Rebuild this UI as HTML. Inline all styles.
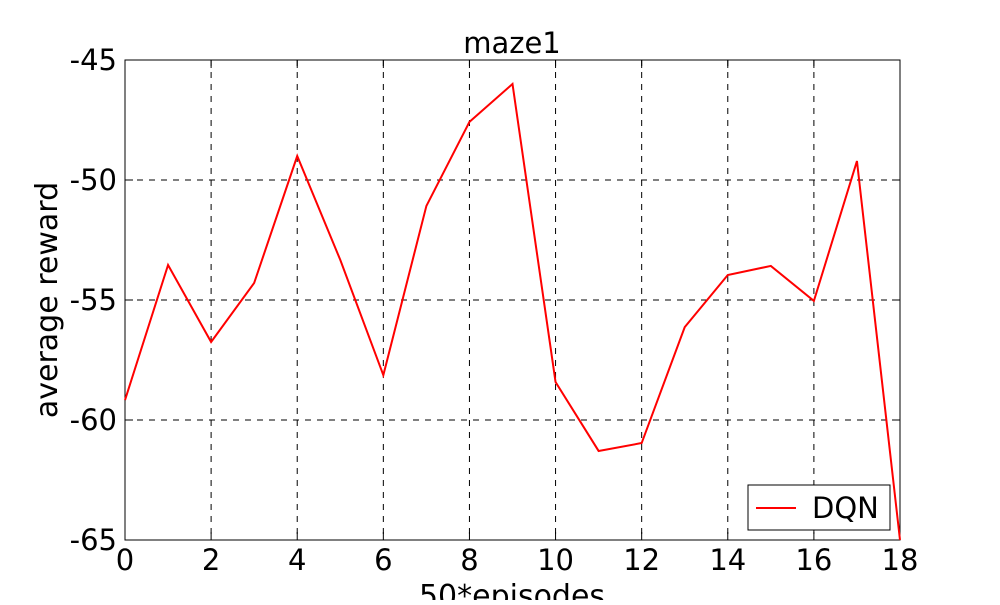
<!DOCTYPE html>
<html><head><meta charset="utf-8"><style>
body{margin:0;background:#fff;}
svg text{font-family:"DejaVu Sans","Liberation Sans",sans-serif;}
</style></head><body>
<svg id="chart" width="1000" height="600">
<text x="512" y="53" font-size="29" text-anchor="middle">maze1</text>
<g id="grid"></g><g id="ticks"></g>
<rect x="125" y="60" width="775" height="480" fill="none" stroke="#000" stroke-width="1"/>
<path id="line" fill="none" stroke="#ff0000" stroke-width="2"/>
<text transform="translate(57,300) rotate(-90)" font-size="30" text-anchor="middle">average reward</text>
<text x="512" y="606" font-size="30" text-anchor="middle">50*episodes</text>
<g>
<rect x="748" y="485" width="142" height="45" fill="#fff" stroke="#000" stroke-width="1"/>
<line x1="756" y1="508" x2="796" y2="508" stroke="#ff0000" stroke-width="2"/>
<text x="812" y="518" font-size="29">DQN</text>
</g>
</svg>
<script>
const xTicks=[0,2,4,6,8,10,12,14,16,18];
const yTicks=[-45,-50,-55,-60,-65];
const xs=[0,1,2,3,4,5,6,7,8,9,10,11,12,13,14,15,16,17,18];
const rewards=[-59.17,-53.54,-56.75,-54.29,-49.0,-53.33,-58.13,-51.08,-47.58,-46.0,-58.42,-61.29,-60.96,-56.13,-53.96,-53.58,-55.04,-49.21,-65];
const X=v=>125+v*(775/18);
const Y=v=>60+(-45-v)*24;
const NS="http://www.w3.org/2000/svg";
const grid=document.getElementById('grid'),ticks=document.getElementById('ticks');
function mk(tag,attrs,parent){const e=document.createElementNS(NS,tag);for(const k in attrs)e.setAttribute(k,attrs[k]);parent.appendChild(e);return e;}
xTicks.forEach(t=>{
 const g=mk('line',{x1:X(t),x2:X(t),y1:60,y2:540,stroke:'#000','stroke-dasharray':'6,6','stroke-width':1},grid);
 
 
 mk('line',{x1:X(t),x2:X(t),y1:540,y2:532,stroke:'#000'},ticks);
 mk('line',{x1:X(t),x2:X(t),y1:60,y2:68,stroke:'#000'},ticks);
 const l=mk('text',{x:X(t),y:570,'font-size':29,'text-anchor':'middle'},ticks);
 l.textContent=t;
 
 
});
yTicks.forEach(t=>{
 const g=mk('line',{x1:125,x2:900,y1:Y(t),y2:Y(t),stroke:'#000','stroke-dasharray':'6,6','stroke-width':1},grid);
 
 
 mk('line',{x1:125,x2:133,y1:Y(t),y2:Y(t),stroke:'#000'},ticks);
 mk('line',{x1:892,x2:900,y1:Y(t),y2:Y(t),stroke:'#000'},ticks);
 const l=mk('text',{x:117,y:Y(t)+10,'font-size':29,'text-anchor':'end'},ticks);
 l.textContent=t;
 
 
});
document.getElementById('line').setAttribute('d',xs.map((x,i)=>(i?'L':'M')+X(x)+','+Y(rewards[i])).join(''));
</script>
</body></html>
